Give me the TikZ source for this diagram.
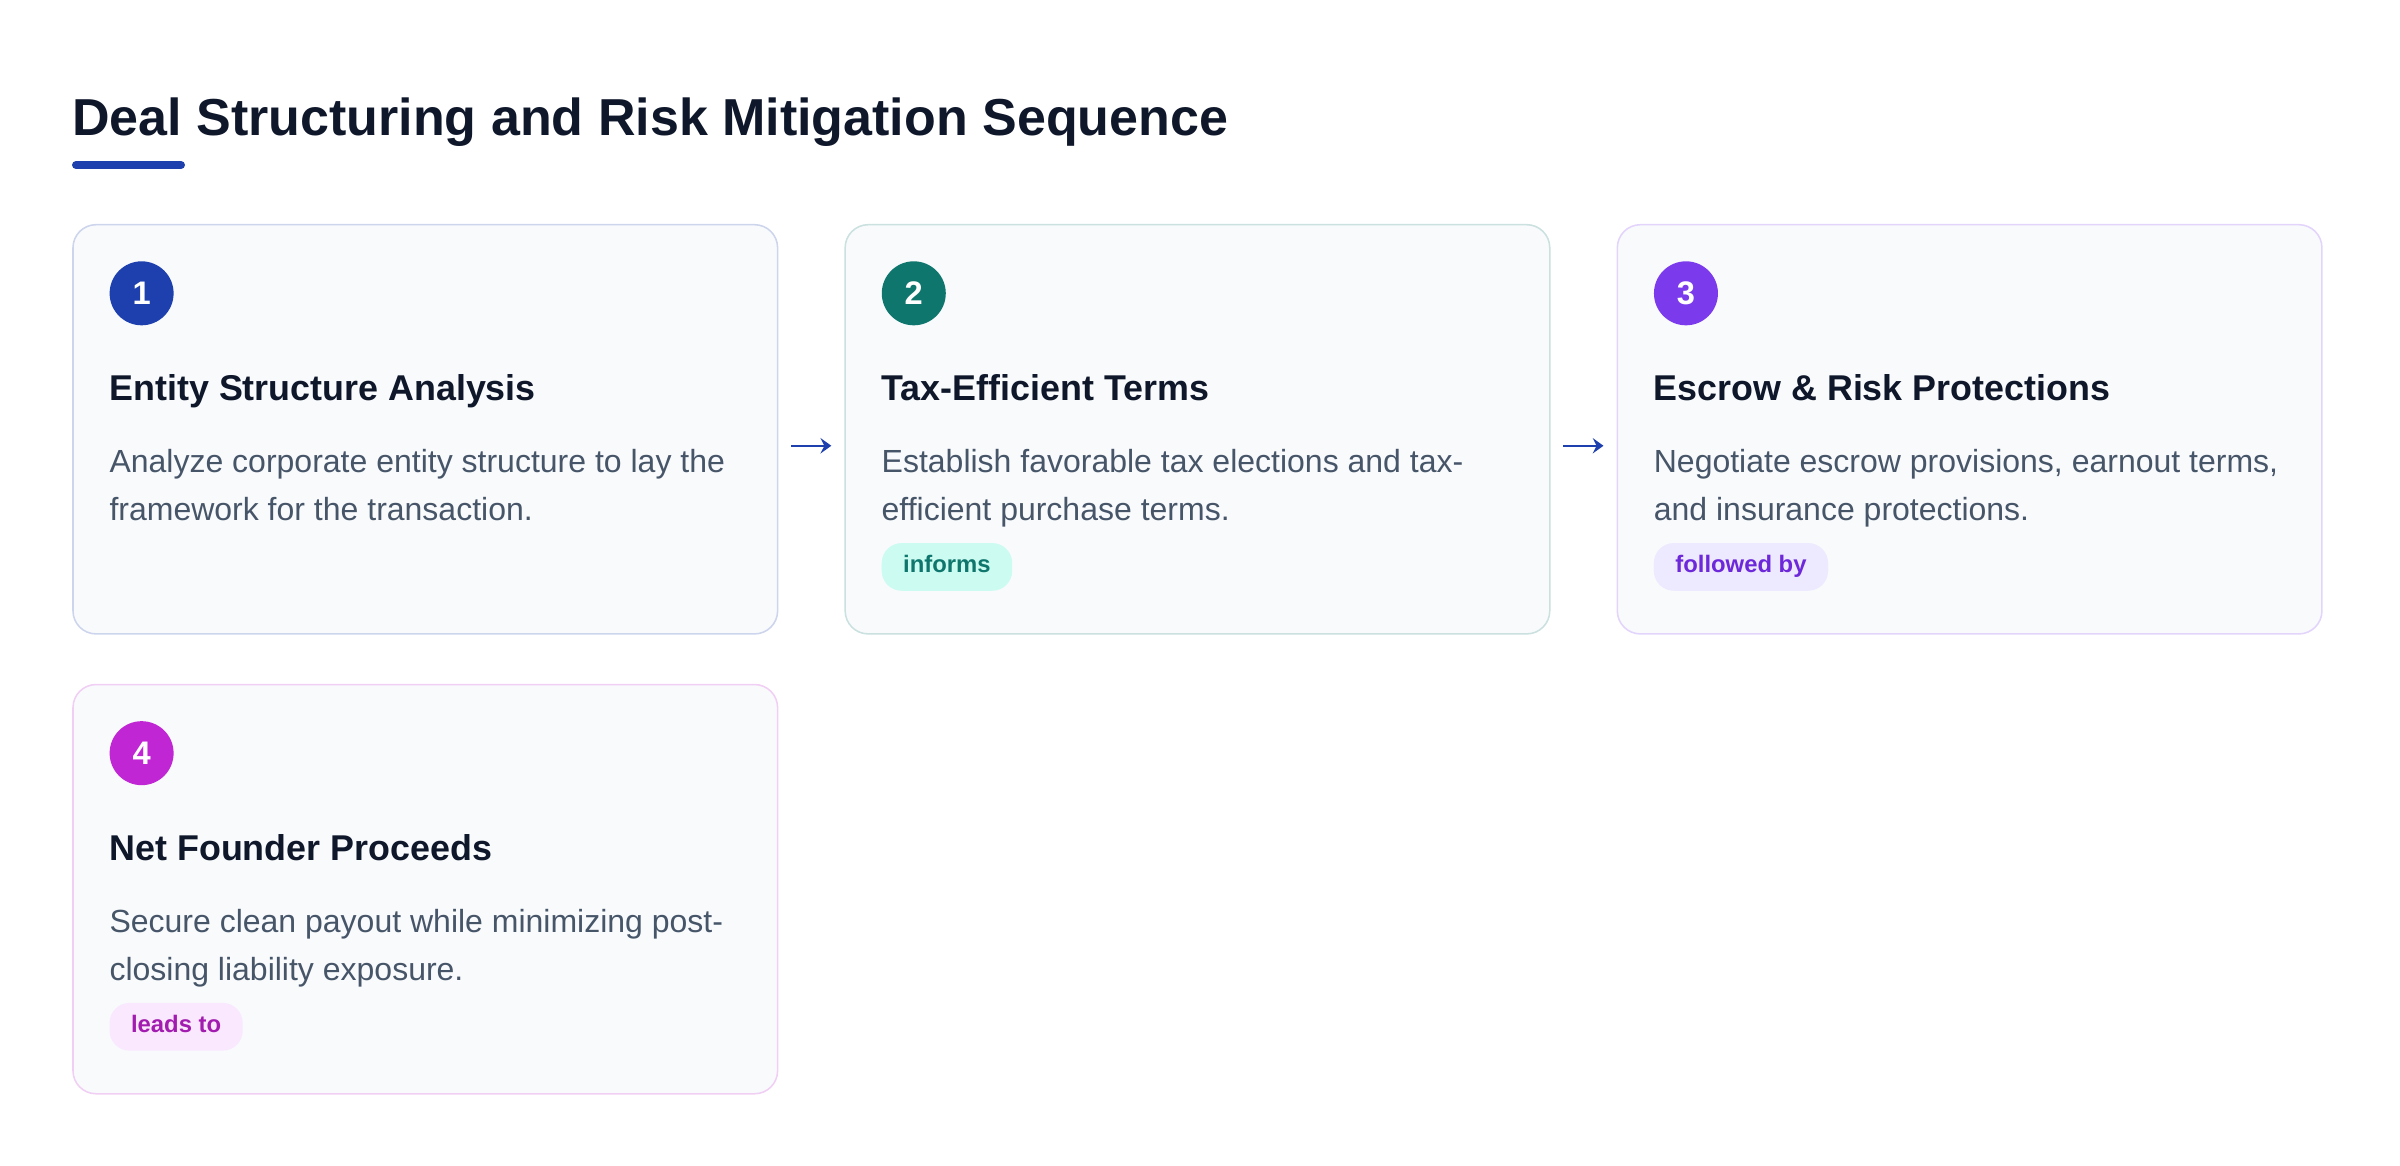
\documentclass[tikz,border=0pt]{standalone}
\usepackage{fontspec}
\setmainfont{Liberation Sans}
\usepackage{xcolor}
\usetikzlibrary{positioning,calc,arrows.meta}

\definecolor{inkc}{HTML}{0F172A}
\definecolor{slatec}{HTML}{475569}
\definecolor{cardbg}{HTML}{F8FAFC}
\definecolor{bluec}{HTML}{1E40AF}
\definecolor{tealc}{HTML}{0F766E}
\definecolor{violetc}{HTML}{7C3AED}
\definecolor{fuchsiac}{HTML}{C026D3}
\definecolor{tealbg}{HTML}{CCFBF1}
\definecolor{violetbg}{HTML}{EDE9FE}
\definecolor{violettx}{HTML}{6D28D9}
\definecolor{fuchsiabg}{HTML}{FAE8FF}
\definecolor{fuchsiatx}{HTML}{A21CAF}

\begin{document}
\begin{tikzpicture}[
        x=0.65pt, y=-0.65pt,
        card/.style={draw=#1!22!white, fill=cardbg, line width=1pt, rounded corners=15pt,
                     minimum width=458pt, minimum height=266pt, inner sep=0pt},
        stepdot/.style={circle, fill=#1, text=white, inner sep=0pt, minimum size=41.6pt,
                        font=\fontsize{21.2}{21.2}\selectfont\bfseries},
        cardtitle/.style={anchor=base west, inner sep=0pt, text=inkc,
                          font=\fontsize{23.3}{28}\selectfont\bfseries},
        desc/.style={anchor=base west, inner sep=0pt, text=slatec, align=left,
                     font=\fontsize{20.8}{30.9}\selectfont},
        badge/.style={anchor=west, fill=#1, rounded corners=13pt, minimum height=31pt,
                      inner xsep=14pt, inner ysep=0pt, text height=11.1pt, text depth=3.3pt,
                      font=\fontsize{15.5}{18}\selectfont\bfseries},
        flow/.style={draw=bluec, line width=1.1pt, shorten <=8.3pt, shorten >=8.5pt,
                     -{Stealth[length=7pt, width=10pt, inset=2.5pt]}}
    ]
    \useasboundingbox (0,0) rectangle (2400,1166);

    % --- title ---
    \node[anchor=base west, inner sep=0pt, text=inkc,
          font=\fontsize{33.8}{40}\selectfont\bfseries] (title) at (72,135.5)
          {Deal Structuring and Risk Mitigation Sequence};
    \draw[bluec, line width=5.2pt, line cap=round] (76,165) -- (181,165);

    % --- cards ---
    \node[card=bluec] (entity) at (425.3,429.3) {};
    \node[card=tealc, right=42.9pt of entity] (tax) {};
    \node[card=violetc, right=42.9pt of tax] (escrow) {};
    \node[card=fuchsiac, below=31.9pt of entity] (proceeds) {};

    % --- step 1 ---
    \node[stepdot=bluec] (n1) at ($(entity.north west)+(69.4,69.4)$) {1};
    \node[cardtitle] (t1) at ($(entity.north west)+(37,176.7)$) {Entity Structure Analysis};
    \node[desc] (d1) at ($(entity.north west)+(37,296.5)$)
          {Analyze corporate entity structure to lay the\\framework for the transaction.};

    % --- step 2 ---
    \node[stepdot=tealc] (n2) at ($(tax.north west)+(69.4,69.4)$) {2};
    \node[cardtitle] (t2) at ($(tax.north west)+(37,176.7)$) {Tax-Efficient Terms};
    \node[desc] (d2) at ($(tax.north west)+(37,296.5)$)
          {Establish favorable tax elections and tax-\\efficient purchase terms.};
    \node[badge=tealbg, text=tealc] (b2) at ($(tax.north west)+(37,343)$) {informs};

    % --- step 3 ---
    \node[stepdot=violetc] (n3) at ($(escrow.north west)+(69.4,69.4)$) {3};
    \node[cardtitle] (t3) at ($(escrow.north west)+(37,176.7)$) {Escrow \& Risk Protections};
    \node[desc] (d3) at ($(escrow.north west)+(37,296.5)$)
          {Negotiate escrow provisions, earnout terms,\\and insurance protections.};
    \node[badge=violetbg, text=violettx] (b3) at ($(escrow.north west)+(37,343)$) {followed by};

    % --- step 4 ---
    \node[stepdot=fuchsiac] (n4) at ($(proceeds.north west)+(69.4,69.4)$) {4};
    \node[cardtitle] (t4) at ($(proceeds.north west)+(37,176.7)$) {Net Founder Proceeds};
    \node[desc] (d4) at ($(proceeds.north west)+(37,296.5)$)
          {Secure clean payout while minimizing post-\\closing liability exposure.};
    \node[badge=fuchsiabg, text=fuchsiatx] (b4) at ($(proceeds.north west)+(37,343)$) {leads to};

    % --- arrows ---
    \draw[flow] ([yshift=-10.7pt]entity.east) -- ([yshift=-10.7pt]tax.west);
    \draw[flow] ([yshift=-10.7pt]tax.east) -- ([yshift=-10.7pt]escrow.west);
\end{tikzpicture}
\end{document}
